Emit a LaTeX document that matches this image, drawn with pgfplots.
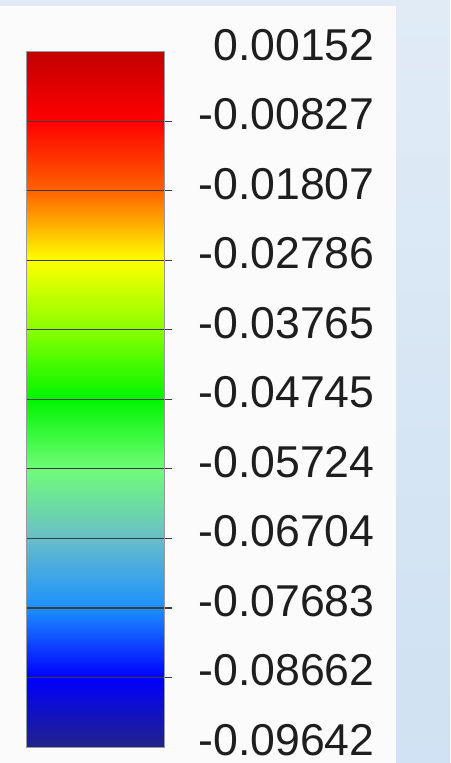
\documentclass[border=0pt]{standalone}
\usepackage{pgfplots}
\pgfplotsset{compat=1.18}
\usepackage{fontspec}
\setmainfont{Liberation Sans}
\definecolor{bgtop}{RGB}{224,235,246}
\definecolor{bgbot}{RGB}{207,225,242}
\definecolor{panel}{RGB}{251,251,251}
\definecolor{gridc}{RGB}{60,60,60}
\definecolor{txt}{RGB}{30,30,30}
\begin{document}
\begin{tikzpicture}
\fill[top color=bgtop,bottom color=bgbot] (0,0) rectangle (225pt,381.5pt);
\fill[panel] (0,0) rectangle (198pt,378.5pt);
\begin{axis}[
  at={(13.35pt,8pt)}, anchor=south west,
  scale only axis, width=68.65pt, height=347.65pt,
  xmin=0, xmax=1, ymin=-0.09642, ymax=0.00152,
  xtick=\empty,
  scaled y ticks=false,
  ytick={-0.08662,-0.07683,-0.06704,-0.05724,-0.04745,-0.03765,-0.02786,-0.01807,-0.00827},
  yticklabels={-0.08662,-0.07683,-0.06704,-0.05724,-0.04745,-0.03765,-0.02786,-0.01807,-0.00827},
  extra y ticks={-0.09642,0.00152},
  extra y tick labels={-0.09642,0.00152},
  extra y tick style={grid=none, major tick style={draw=none}},
  ytick pos=right, yticklabel pos=right,
  tick align=outside, major tick length=4pt,
  ymajorgrids, grid style={gridc, line width=0.6pt},
  major tick style={gridc, line width=0.6pt},
  axis line style={draw=gray!80, line width=0.5pt},
  axis on top,
  yticklabel style={font=\fontsize{22.3pt}{26pt}\selectfont, text=txt, anchor=east, inner sep=0pt, xshift=101.5pt, yshift=3.5pt},
  colormap={fea}{rgb255(0)=(34,34,138) rgb255(1)=(0,0,255) rgb255(2)=(28,144,255) rgb255(3)=(104,190,200) rgb255(4)=(112,252,120) rgb255(5)=(0,245,0) rgb255(6)=(136,255,0) rgb255(7)=(255,255,0) rgb255(8)=(255,100,0) rgb255(9)=(255,0,0) rgb255(10)=(196,0,0)},
  point meta min=-0.09642, point meta max=0.00152,
]
\addplot[surf, shader=interp, point meta=y, mesh/cols=2] table {
x y
0 -0.09642
1 -0.09642
0 -0.08662
1 -0.08662
0 -0.07683
1 -0.07683
0 -0.06704
1 -0.06704
0 -0.05724
1 -0.05724
0 -0.04745
1 -0.04745
0 -0.03765
1 -0.03765
0 -0.02786
1 -0.02786
0 -0.01807
1 -0.01807
0 -0.00827
1 -0.00827
0 0.00152
1 0.00152
};
\end{axis}
\pgfresetboundingbox
\path (0,0) rectangle (225pt,381.5pt);
\end{tikzpicture}
\end{document}
